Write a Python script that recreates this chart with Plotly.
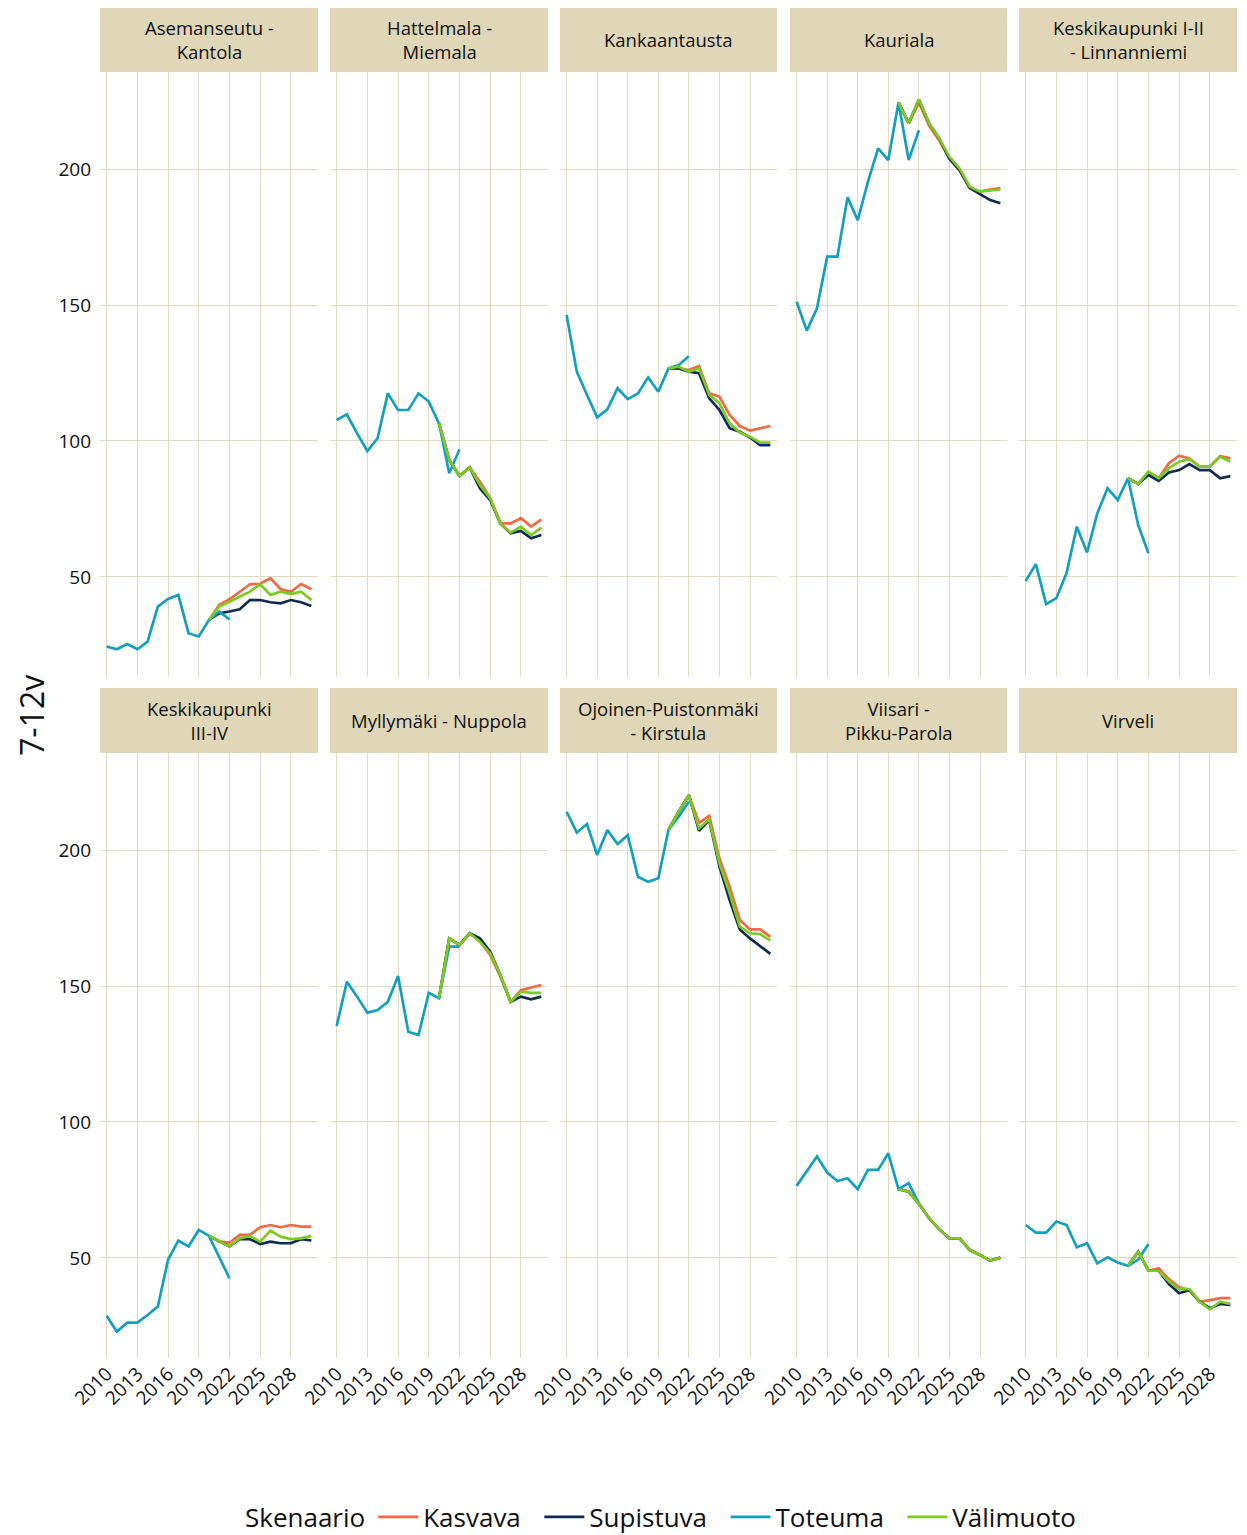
import plotly.graph_objects as go

# page body has an 8px margin
OFF = 8
W, H = 1247 - 2 * OFF, 1535

years_toteuma = list(range(2010, 2023))
years_scen = list(range(2020, 2031))
x_ticks = [2010, 2013, 2016, 2019, 2022, 2025, 2028]
y_ticks = [50, 100, 150, 200]

areas = ["Asemanseutu -<br>Kantola", "Hattelmala -<br>Miemala", "Kankaantausta", "Kauriala",
         "Keskikaupunki I-II<br>- Linnanniemi", "Keskikaupunki<br>III-IV", "Myllymäki - Nuppola",
         "Ojoinen-Puistonmäki<br>- Kirstula", "Viisari -<br>Pikku-Parola", "Virveli"]

series_names = ["Kasvava", "Supistuva", "Toteuma", "Välimuoto"]
series_colors = ["#F26A44", "#0E2C52", "#12A0BC", "#7BCB22"]

# Asemanseutu - Kantola
tot_1 = [24.4, 23.4, 25.3, 23.4, 26.2, 39.1, 41.9, 43.4, 29.3, 28.1, 34.2, 37.2, 34.4]
kas_1 = [34.2, 39.8, 41.8, 44.6, 47.3, 47.5, 49.5, 45.5, 44.5, 47.4, 45.5]
sup_1 = [34.2, 36.6, 37.3, 38.1, 41.5, 41.5, 40.7, 40.3, 41.5, 40.7, 39.3]
val_1 = [34.2, 39.1, 40.9, 42.8, 44.6, 47.3, 43.4, 44.6, 43.7, 44.6, 41.5]
# Hattelmala - Miemala
tot_2 = [107.7, 109.8, 102.8, 96.3, 101.0, 117.5, 111.4, 111.4, 117.5, 114.5, 106.5, 88.1, 96.9]
kas_2 = [106.5, 93.0, 87.1, 90.3, 85.0, 79.0, 69.7, 69.7, 71.6, 68.5, 71.2]
sup_2 = [106.5, 93.0, 87.1, 90.3, 82.6, 78.3, 69.7, 66.1, 66.9, 64.2, 65.4]
val_2 = [106.5, 93.0, 87.1, 90.3, 83.8, 78.9, 69.7, 66.3, 68.5, 65.4, 68.1]
# Kankaantausta
tot_3 = [146.3, 125.5, 116.9, 108.7, 111.6, 119.4, 115.4, 117.5, 123.4, 118.1, 126.7, 127.9, 131.2]
kas_3 = [126.7, 126.7, 126.1, 127.6, 117.5, 116.3, 109.6, 105.5, 103.8, 104.7, 105.5]
sup_3 = [126.7, 126.7, 125.5, 124.9, 115.7, 111.4, 104.7, 103.4, 101.3, 98.5, 98.5]
val_3 = [126.7, 127.3, 125.5, 126.7, 116.9, 113.9, 106.5, 103.1, 101.6, 99.4, 99.4]
# Kauriala
tot_4 = [151.2, 140.6, 148.8, 167.8, 167.8, 189.6, 181.2, 195.3, 207.6, 203.3, 224.5, 203.3, 214.3]
kas_4 = [224.5, 216.8, 224.5, 216.0, 210.5, 203.8, 199.5, 193.0, 191.7, 192.5, 193.0]
sup_4 = [224.5, 216.8, 225.6, 216.8, 211.3, 203.8, 199.5, 193.0, 190.8, 188.6, 187.4]
val_4 = [224.5, 216.8, 225.6, 216.8, 211.3, 204.5, 200.2, 193.5, 191.7, 192.0, 192.5]
# Keskikaupunki I-II - Linnanniemi
tot_5 = [48.5, 54.7, 40.0, 42.2, 51.4, 68.5, 59.0, 73.4, 82.6, 78.3, 86.3, 69.1, 58.7]
kas_5 = [86.3, 84.2, 88.7, 86.3, 91.8, 94.6, 93.6, 90.6, 90.6, 94.5, 93.6]
sup_5 = [86.3, 84.2, 87.5, 85.3, 88.4, 89.3, 91.5, 89.3, 89.3, 86.3, 87.1]
val_5 = [86.3, 84.2, 88.7, 86.3, 90.0, 92.4, 93.3, 90.6, 90.6, 94.2, 92.4]
# Keskikaupunki III-IV
tot_6 = [28.7, 22.9, 26.2, 26.2, 29.0, 32.1, 49.3, 56.4, 54.2, 60.3, 58.1, 50.5, 42.5]
kas_6 = [58.1, 56.0, 55.6, 58.5, 58.5, 61.3, 62.1, 61.3, 62.1, 61.5, 61.5]
sup_6 = [58.1, 56.0, 54.2, 56.9, 56.9, 55.1, 56.0, 55.4, 55.4, 56.9, 56.4]
val_6 = [58.1, 56.0, 54.2, 57.2, 58.1, 56.0, 60.0, 57.8, 56.9, 57.2, 58.1]
# Myllymäki - Nuppola
tot_7 = [135.3, 151.6, 146.1, 140.2, 141.2, 144.2, 153.7, 133.2, 132.0, 147.5, 145.5, 164.5, 164.5]
kas_7 = [145.5, 167.5, 165.1, 169.4, 166.3, 161.4, 153.4, 144.2, 148.5, 149.5, 150.4]
sup_7 = [145.5, 167.5, 165.1, 169.4, 167.5, 162.6, 154.0, 144.2, 146.1, 145.1, 146.1]
val_7 = [145.5, 167.5, 165.1, 169.4, 166.3, 162.0, 154.0, 144.2, 147.9, 147.5, 147.5]
# Ojoinen-Puistonmäki - Kirstula
tot_8 = [214.1, 206.4, 209.6, 198.2, 207.4, 202.2, 205.5, 190.2, 188.3, 189.6, 207.4, 212.3, 217.8]
kas_8 = [207.4, 214.1, 220.2, 210.0, 212.6, 196.9, 186.5, 174.3, 170.8, 170.8, 168.1]
sup_8 = [207.4, 214.1, 220.2, 207.1, 211.0, 193.9, 181.6, 170.8, 167.5, 164.7, 161.8]
val_8 = [207.4, 214.1, 220.2, 208.0, 211.3, 195.1, 184.1, 171.8, 169.4, 169.1, 166.7]
# Viisari - Pikku-Parola
tot_9 = [76.5, 81.7, 87.3, 81.4, 78.3, 79.3, 75.3, 82.4, 82.4, 88.5, 75.3, 77.5, 70.1]
kas_9 = [75.3, 74.4, 69.9, 64.6, 60.5, 57.2, 57.2, 52.9, 51.1, 49.0, 50.1]
sup_9 = [75.3, 74.4, 69.9, 64.6, 60.5, 57.2, 57.2, 52.9, 51.1, 49.0, 50.1]
val_9 = [75.3, 74.4, 69.9, 64.6, 60.5, 57.2, 57.2, 52.9, 51.1, 49.0, 50.1]
# Virveli
tot_10 = [62.1, 59.3, 59.3, 63.4, 62.1, 53.9, 55.4, 48.0, 50.2, 48.3, 47.1, 49.3, 55.1]
kas_10 = [47.1, 52.3, 45.3, 46.2, 42.2, 39.2, 38.2, 33.9, 34.5, 35.2, 35.2]
sup_10 = [47.1, 52.3, 45.3, 45.3, 40.4, 37.0, 38.2, 33.9, 31.5, 33.1, 32.7]
val_10 = [47.1, 52.3, 45.3, 45.3, 41.3, 38.5, 38.5, 33.9, 31.1, 33.9, 33.1]

panels = [
    (kas_1, sup_1, tot_1, val_1), (kas_2, sup_2, tot_2, val_2), (kas_3, sup_3, tot_3, val_3),
    (kas_4, sup_4, tot_4, val_4), (kas_5, sup_5, tot_5, val_5), (kas_6, sup_6, tot_6, val_6),
    (kas_7, sup_7, tot_7, val_7), (kas_8, sup_8, tot_8, val_8), (kas_9, sup_9, tot_9, val_9),
    (kas_10, sup_10, tot_10, val_10),
]

FONT = "Open Sans"
GRID = "#E4DABF"
STRIP = "#E0D7B8"
TXT = "#111111"

cols_px = [(100, 318), (330, 548), (560, 777), (790, 1007), (1019, 1237)]
rows_px = [(72, 677), (753, 1358)]
strips_px = [(7, 72), (688, 753)]


def px(x):
    return (x - OFF) / W


def py(y):
    return 1 - (y - OFF) / H


fig = go.Figure()
layout = {}
shapes = []
annotations = []

for i in range(10):
    r, c = divmod(i, 5)
    idx = i + 1
    xs = "" if idx == 1 else str(idx)
    x0, x1 = cols_px[c]
    y0, y1 = rows_px[r]
    layout["xaxis" + xs] = dict(
        domain=[px(x0), px(x1)], anchor="y" + xs, range=[2009.35, 2030.65],
        tickvals=x_ticks, showticklabels=(r == 1), tickangle=-45,
        showgrid=True, gridcolor=GRID, gridwidth=1.4, zeroline=False, showline=False,
        ticks="", tickfont=dict(family=FONT, size=19, color=TXT), automargin=False,
    )
    layout["yaxis" + xs] = dict(
        domain=[py(y1), py(y0)], anchor="x" + xs, range=[13.2, 235.7],
        tickvals=y_ticks, showticklabels=(c == 0),
        showgrid=True, gridcolor=GRID, gridwidth=1.4, zeroline=False, showline=False,
        ticks="", ticklabelstandoff=8, tickfont=dict(family=FONT, size=19, color=TXT),
        automargin=False,
    )
    s0, s1 = strips_px[r]
    shapes.append(dict(type="rect", xref="paper", yref="paper",
                       x0=px(x0), x1=px(x1), y0=py(s1), y1=py(s0),
                       fillcolor=STRIP, line=dict(width=0), layer="below"))
    annotations.append(dict(text=areas[i], xref="paper", yref="paper",
                            x=px((x0 + x1) / 2), y=py((s0 + s1) / 2),
                            showarrow=False, xanchor="center", yanchor="middle",
                            font=dict(family=FONT, size=18.5, color=TXT)))
    for k, (name, color) in enumerate(zip(series_names, series_colors)):
        yvals = panels[i][k]
        xvals = years_toteuma if name == "Toteuma" else years_scen
        fig.add_trace(go.Scatter(
            x=xvals, y=yvals, mode="lines", name=name + "\u00a0\u00a0", legendgroup=name,
            showlegend=(i == 0), line=dict(color=color, width=2.7),
            xaxis="x" + xs, yaxis="y" + xs,
        ))

annotations.append(dict(text="7-12v", xref="paper", yref="paper", x=px(31), y=py(716),
                        textangle=-90, showarrow=False, xanchor="center", yanchor="middle",
                        font=dict(family=FONT, size=32, color=TXT)))

fig.update_layout(
    **layout,
    width=W, height=H,
    margin=dict(l=0, r=0, t=0, b=0, autoexpand=False),
    paper_bgcolor="white", plot_bgcolor="white",
    shapes=shapes, annotations=annotations,
    showlegend=True,
    legend=dict(orientation="h", x=px(669), y=py(1517), xanchor="center", yanchor="middle",
                title=dict(text="Skenaario", font=dict(family=FONT, size=26, color=TXT)),
                font=dict(family=FONT, size=26, color=TXT), itemwidth=40,
                bgcolor="rgba(0,0,0,0)"),
    font=dict(family=FONT, color=TXT),
)

fig.write_html("out.html")
